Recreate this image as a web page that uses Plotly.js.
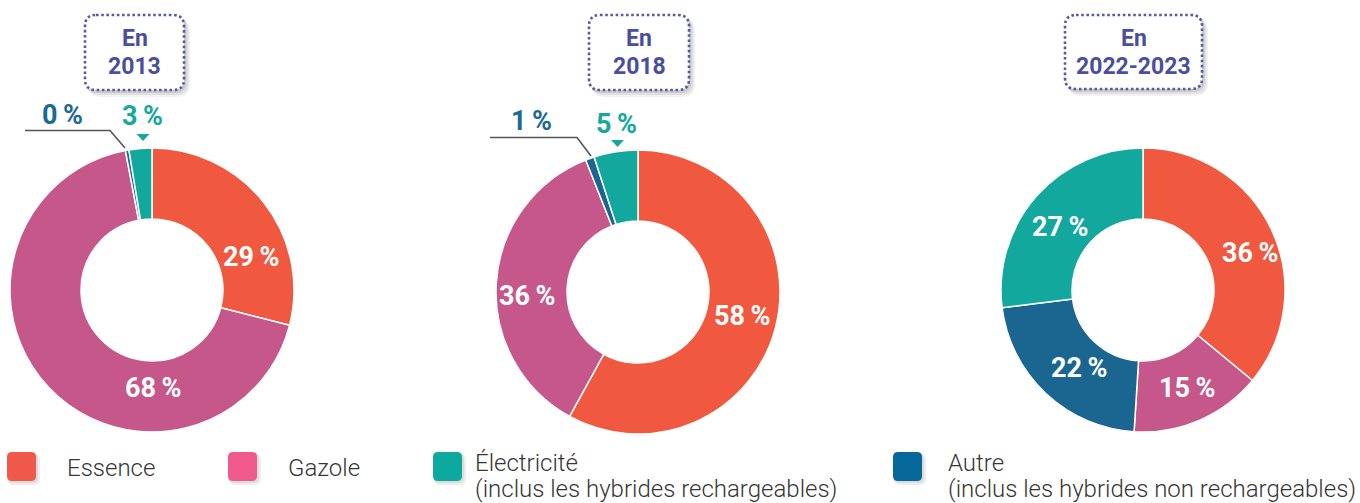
<!DOCTYPE html>
<html>
<head>
<meta charset="utf-8">
<script src="https://cdn.plot.ly/plotly-3.0.1.min.js"></script>
<style>
html,body{margin:0;padding:0;background:#fff;}
#chart{width:1360px;height:503px;}
</style>
</head>
<body>
<div id="chart"></div>
<script>
// ---- DATA ----
const sliceCategories = ['Essence', 'Gazole', 'Autre', 'Électricité'];
const years = ['2013', '2018', '2022-2023'];
const values2013 = [29, 68, 0.4, 2.6];
const values2018 = [58, 36, 1, 5];
const values2023 = [36, 15, 22, 27];
const labels2013 = ['29 %', '68 %', '0 %', '3 %'];
const labels2018 = ['58 %', '36 %', '1 %', '5 %'];
const labels2023 = ['36 %', '15 %', '22 %', '27 %'];
const legendLabels = ['Essence', 'Gazole', 'Électricité', '(inclus les hybrides rechargeables)', 'Autre', '(inclus les hybrides non rechargeables)'];

// ---- STYLE / LAYOUT ----
const W = 1360, H = 503;
const sliceColors = ['#F0583F', '#C5578A', '#1A6690', '#12A89D'];
const legendColors = { 'Essence': '#F0584A', 'Gazole': '#F0598C', 'Électricité': '#0DA99E', 'Autre': '#06679A' };
const titleColor = '#4A4E9E';
const NB = '\u2009';
const fmt = s => s.replace(' ', NB);

const pies = [
  { cx: 152, cy: 290, r: 142, values: values2013, labels: labels2013, year: years[0],
    box: [85, 15, 184, 90],
    inside: [[251, 257, 0], [153, 388, 1]],
    outside: [[62, 115, 2], [142.5, 116, 3]],
    leader: [[25, 130.5], [110, 130.5], [125, 148]],
    tri: [143, 134] },
  { cx: 638, cy: 292, r: 142, values: values2018, labels: labels2018, year: years[1],
    box: [589, 15, 689, 90],
    inside: [[742, 316, 0], [527, 296, 1]],
    outside: [[531, 121, 2], [616, 124, 3]],
    leader: [[490, 137.5], [577, 137.5], [591, 156]],
    tri: [617.5, 140] },
  { cx: 1143, cy: 290, r: 142, values: values2023, labels: labels2023, year: years[2],
    box: [1065, 15, 1202, 89],
    inside: [[1250, 253, 0], [1187, 388, 1], [1079, 368, 2], [1060, 227, 3]],
    outside: [], leader: null, tri: null }
];

function rr(x0, y0, x1, y1, r) {
  return `M${x0 + r},${y0} L${x1 - r},${y0} Q${x1},${y0} ${x1},${y0 + r} L${x1},${y1 - r} Q${x1},${y1} ${x1 - r},${y1} L${x0 + r},${y1} Q${x0},${y1} ${x0},${y1 - r} L${x0},${y0 + r} Q${x0},${y0} ${x0 + r},${y0} Z`;
}

const traces = [{ type: 'scatter', x: [], y: [], hoverinfo: 'skip', showlegend: false }];
const shapes = [];
const annotations = [];

pies.forEach(p => {
  traces.push({
    type: 'pie',
    labels: sliceCategories,
    values: p.values,
    sort: false,
    direction: 'clockwise',
    rotation: 0,
    hole: 0.5,
    textinfo: 'none',
    hoverinfo: 'label+percent',
    showlegend: false,
    marker: { colors: sliceColors, line: { color: '#ffffff', width: 1.5 } },
    domain: {
      x: [(p.cx - p.r) / W, (p.cx + p.r) / W],
      y: [(H - (p.cy + p.r)) / H, (H - (p.cy - p.r)) / H]
    }
  });
  const [bx0, by0, bx1, by1] = p.box;
  shapes.push({ type: 'path', xref: 'x', yref: 'y', path: rr(bx0 + 3, by0 + 4, bx1 + 6, by1 + 7, 13), fillcolor: 'rgba(0,0,0,0.05)', line: { width: 0 }, layer: 'above' });
  shapes.push({ type: 'path', xref: 'x', yref: 'y', path: rr(bx0 + 2, by0 + 3, bx1 + 4.5, by1 + 5, 12), fillcolor: 'rgba(0,0,0,0.07)', line: { width: 0 }, layer: 'above' });
  shapes.push({ type: 'path', xref: 'x', yref: 'y', path: rr(bx0 + 1, by0 + 1.5, bx1 + 2.5, by1 + 3, 12), fillcolor: 'rgba(0,0,0,0.09)', line: { width: 0 }, layer: 'above' });
  shapes.push({ type: 'path', xref: 'x', yref: 'y', path: rr(bx0, by0, bx1, by1, 11), fillcolor: '#ffffff', line: { color: '#5659A6', width: 2.6, dash: '2.6px,2.6px' }, layer: 'above' });
  const bcx = (bx0 + bx1) / 2;
  annotations.push({ xref: 'x', yref: 'y', x: bcx, y: 38, text: '<b>En</b>', showarrow: false, font: { family: 'Roboto', size: 23, color: titleColor } });
  annotations.push({ xref: 'x', yref: 'y', x: bcx, y: 66, text: '<b>' + p.year + '</b>', showarrow: false, font: { family: 'Roboto', size: 23, color: titleColor } });
  p.inside.forEach(([x, y, i]) => {
    annotations.push({ xref: 'x', yref: 'y', x: x, y: y, text: '<b>' + fmt(p.labels[i]) + '</b>', showarrow: false, font: { family: 'Roboto', size: 27, color: '#ffffff' } });
  });
  p.outside.forEach(([x, y, i]) => {
    annotations.push({ xref: 'x', yref: 'y', x: x, y: y, text: '<b>' + fmt(p.labels[i]) + '</b>', showarrow: false, font: { family: 'Roboto', size: 27, color: i === 2 ? '#1B6A94' : '#15A99C' } });
  });
  if (p.leader) {
    const L = p.leader;
    shapes.push({ type: 'path', xref: 'x', yref: 'y', path: `M${L[0][0]},${L[0][1]} L${L[1][0]},${L[1][1]} L${L[2][0]},${L[2][1]}`, line: { color: '#555555', width: 1.6 }, layer: 'above' });
  }
  if (p.tri) {
    const [tx, ty] = p.tri;
    shapes.push({ type: 'path', xref: 'x', yref: 'y', path: `M${tx - 6.5},${ty} L${tx + 6.5},${ty} L${tx},${ty + 7} Z`, fillcolor: '#15A99C', line: { width: 0 }, layer: 'above' });
  }
});

const legendItems = [
  { key: 'Essence', sq: 7, tx: 65, lines: [legendLabels[0]] },
  { key: 'Gazole', sq: 228, tx: 286, lines: [legendLabels[1]] },
  { key: 'Électricité', sq: 433, tx: 473, lines: [legendLabels[2], legendLabels[3]] },
  { key: 'Autre', sq: 893, tx: 946, lines: [legendLabels[4], legendLabels[5]] }
];
const legFont = { family: 'Roboto', size: 24, weight: 300, color: '#363636' };
legendItems.forEach(it => {
  const x0 = it.sq, y0 = 452, s = 29;
  shapes.push({ type: 'path', xref: 'x', yref: 'y', path: rr(x0 + 1, y0 + 2, x0 + s + 4, y0 + s + 4, 6), fillcolor: 'rgba(0,0,0,0.07)', line: { width: 0 }, layer: 'above' });
  shapes.push({ type: 'path', xref: 'x', yref: 'y', path: rr(x0 + 0.5, y0 + 1, x0 + s + 2, y0 + s + 2, 6), fillcolor: 'rgba(0,0,0,0.07)', line: { width: 0 }, layer: 'above' });
  shapes.push({ type: 'path', xref: 'x', yref: 'y', path: rr(x0, y0, x0 + s, y0 + s, 5), fillcolor: legendColors[it.key], line: { width: 0 }, layer: 'above' });
  if (it.lines.length === 1) {
    annotations.push({ xref: 'x', yref: 'y', x: it.tx, y: 468, xanchor: 'left', text: it.lines[0], showarrow: false, font: legFont });
  } else {
    annotations.push({ xref: 'x', yref: 'y', x: it.tx, y: 463, xanchor: 'left', text: it.lines[0], showarrow: false, font: legFont });
    annotations.push({ xref: 'x', yref: 'y', x: it.tx, y: 489, xanchor: 'left', text: it.lines[1], showarrow: false, font: legFont });
  }
});

const layout = {
  width: W, height: H,
  margin: { l: 0, r: 0, t: 0, b: 0 },
  paper_bgcolor: '#ffffff', plot_bgcolor: 'rgba(0,0,0,0)',
  showlegend: false,
  xaxis: { range: [0, W], visible: false, fixedrange: true, domain: [0, 1] },
  yaxis: { range: [H, 0], visible: false, fixedrange: true, domain: [0, 1] },
  shapes: shapes,
  annotations: annotations
};

Plotly.newPlot('chart', traces, layout, { displayModeBar: false, staticPlot: true });
</script>
</body>
</html>
